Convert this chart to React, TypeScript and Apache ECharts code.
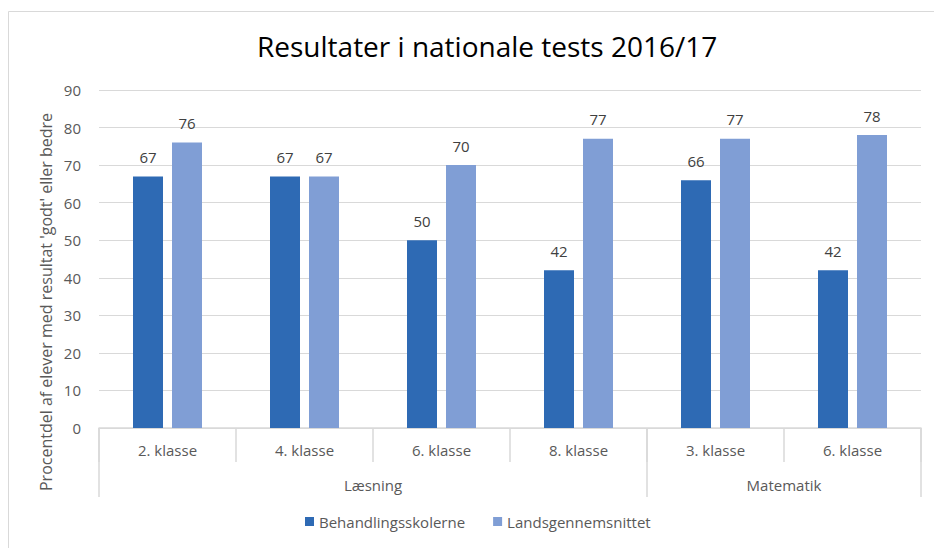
import React, { useEffect, useRef } from "react";
import * as echarts from "echarts";

const classes = ["2. klasse", "4. klasse", "6. klasse", "8. klasse", "3. klasse", "6. klasse"];
const groups = ["Læsning", "Matematik"];
const groupBounds = [0, 4, 6];
const groupCenters = [2, 5];
const behandling = [67, 67, 50, 42, 66, 42];
const lands = [76, 67, 70, 77, 77, 78];
const seriesNames = ["Behandlingsskolerne", "Landsgennemsnittet"];
const title = "Resultater i nationale tests 2016/17";
const yTitle = "Procentdel af elever med resultat 'godt' eller bedre";

const FONT = "'Open Sans', 'Noto Sans', sans-serif";

export default function App() {
  const ref = useRef<HTMLDivElement>(null);
  useEffect(() => {
    const chart = echarts.init(ref.current!, undefined, { renderer: "svg" });
    chart.setOption({
      animation: false,
      backgroundColor: "#ffffff",
      textStyle: { fontFamily: FONT },
      title: {
        text: title,
        left: 252,
        top: 27,
        textStyle: { fontFamily: FONT, fontSize: 28, fontWeight: "normal", color: "#000000" },
      },
      graphic: [
        {
          type: "rect",
          shape: { x: 8.5, y: 11.5, width: 950, height: 560 },
          style: { fill: "none", stroke: "#D9D9D9", lineWidth: 1 },
          silent: true,
        },
        {
          type: "text",
          x: 46,
          y: 302,
          rotation: Math.PI / 2,
          style: {
            text: yTitle,
            fontFamily: FONT,
            fontSize: 16,
            fill: "#595959",
            align: "center",
            verticalAlign: "middle",
          },
        },
      ],
      legend: {
        bottom: 14,
        left: 300,
        itemWidth: 9,
        itemHeight: 9,
        itemGap: 28,
        icon: "rect",
        textStyle: { fontFamily: FONT, fontSize: 15, color: "#595959" },
        data: seriesNames,
      },
      grid: { left: 99, right: 13, top: 90, bottom: 120, containLabel: false },
      xAxis: [
        {
          type: "category",
          data: classes,
          axisLine: { show: true, lineStyle: { color: "#D9D9D9", width: 1.5 } },
          axisTick: { show: true, length: 34, lineStyle: { color: "#D9D9D9", width: 1.5 } },
          axisLabel: { fontFamily: FONT, fontSize: 15, color: "#595959", margin: 14 },
        },
        {
          type: "value",
          min: 0,
          max: 6,
          position: "bottom",
          axisLine: { show: false },
          splitLine: { show: false },
          axisTick: {
            show: true,
            length: 69,
            customValues: groupBounds,
            lineStyle: { color: "#D9D9D9", width: 1.5 },
          },
          axisLabel: {
            show: true,
            customValues: groupCenters,
            fontFamily: FONT,
            fontSize: 15,
            color: "#595959",
            margin: 49,
            formatter: (v: number) => groups[groupCenters.indexOf(v)] ?? "",
          },
        },
      ],
      yAxis: {
        type: "value",
        min: 0,
        max: 90,
        interval: 10,
        axisLine: { show: false },
        axisTick: { show: false },
        splitLine: { lineStyle: { color: "#D9D9D9", width: 1 } },
        axisLabel: { fontFamily: FONT, fontSize: 15, color: "#595959", margin: 18 },
      },
      series: [
        {
          name: seriesNames[0],
          type: "bar",
          xAxisIndex: 0,
          data: behandling,
          barWidth: 30,
          barGap: "30%",
          itemStyle: { color: "#2E6AB4" },
          label: { show: true, position: "top", distance: 12, fontFamily: FONT, fontSize: 15, color: "#404040" },
        },
        {
          name: seriesNames[1],
          type: "bar",
          xAxisIndex: 0,
          data: lands,
          barWidth: 30,
          barGap: "30%",
          itemStyle: { color: "#809ED5" },
          label: { show: true, position: "top", distance: 12, fontFamily: FONT, fontSize: 15, color: "#404040" },
        },
      ],
    });
    return () => chart.dispose();
  }, []);
  return <div ref={ref} style={{ width: 934, height: 548, position: "absolute", left: 0, top: 0 }} />;
}
